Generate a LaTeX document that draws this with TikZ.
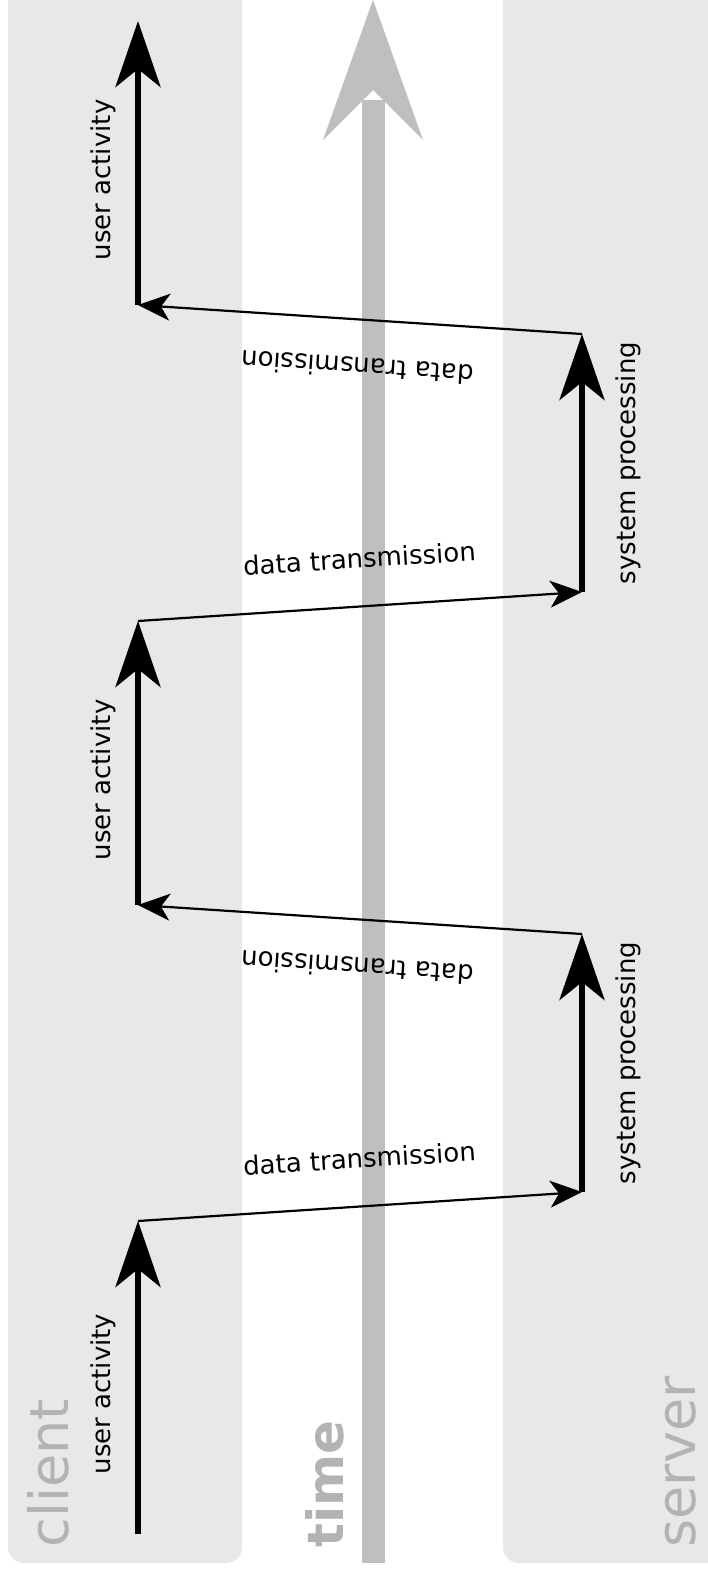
\documentclass[tikz,border=0pt]{standalone}
\usepackage{fontspec}
\setmainfont{DejaVu Sans}
\usetikzlibrary{arrows.meta}
\definecolor{panelgray}{RGB}{232,233,231}
\definecolor{biglabel}{RGB}{178,180,178}
\definecolor{timegray}{RGB}{190,192,190}
\begin{document}
\begin{tikzpicture}[x=1pt,y=-1pt,
  panel/.style={fill=panelgray, rounded corners=16pt},
  activity/.style={line width=6.5pt, -{Stealth[length=66pt,width=45pt,inset=18pt]}},
  transfer/.style={line width=2.2pt, -{Stealth[length=32pt,width=27pt,inset=9pt]}},
  smalllabel/.style={font=\fontsize{26}{30}\selectfont, inner sep=0pt},
  biglab/.style={font=\fontsize{54}{60}\selectfont, text=biglabel, inner sep=0pt, rotate=90, anchor=base}]
\useasboundingbox (0,0) rectangle (708,1574);
\clip (0,0) rectangle (708,1574);
% lanes
\fill[panel] (8,-40) rectangle (242,1563);
\fill[panel] (503,-40) rectangle (760,1563);
% time axis
\coordinate (tbot) at (373,1563);
\coordinate (tneck) at (373,90);
\coordinate (ttop) at (373,0);
\coordinate (twl) at (323,140);
\coordinate (twr) at (423,140);
\fill[timegray] (361.5,1563) rectangle (384.5,100);
\fill[timegray] (ttop) -- (twr) -- (tneck) -- (twl) -- cycle;
% lane titles
\node[biglab] (client) at (68,1473) {client};
\node[biglab, font=\fontsize{50}{56}\selectfont\bfseries] (time) at (343,1484) {time};
\node[biglab] (server) at (695,1462) {server};
% key points
\coordinate (c0) at (138,1534);
\coordinate (c1) at (138,1221);
\coordinate (s1) at (582,1192);
\coordinate (s2) at (582,934);
\coordinate (c2) at (138,905);
\coordinate (c3) at (138,621);
\coordinate (s3) at (582,592);
\coordinate (s4) at (582,334);
\coordinate (c4) at (138,305);
\coordinate (c5) at (138,21);
% activities
\draw[activity] (c0) -- (c1);
\draw[activity] (s1) -- (s2);
\draw[activity] (c2) -- (c3);
\draw[activity] (s3) -- (s4);
\draw[activity] (c4) -- (c5);
% transmissions
\draw[transfer] (c1) -- (s1);
\draw[transfer] (s2) -- (c2);
\draw[transfer] (c3) -- (s3);
\draw[transfer] (s4) -- (c4);
% labels
\node[smalllabel, rotate=90, anchor=base] (ua1) at (110,1394) {user activity};
\node[smalllabel, rotate=90, anchor=base] (ua2) at (110,780) {user activity};
\node[smalllabel, rotate=90, anchor=base] (ua3) at (110,180) {user activity};
\node[smalllabel, rotate=90, anchor=base] (sp1) at (635,1063) {system processing};
\node[smalllabel, rotate=90, anchor=base] (sp2) at (635,463) {system processing};
\node[smalllabel, rotate=3.5, anchor=base] (dt1) at (360,1168) {data transmission};
\node[smalllabel, rotate=3.5, anchor=base] (dt3) at (360,568) {data transmission};
\node[smalllabel, rotate=176.3, anchor=base] (dt2) at (358,958) {data transmission};
\node[smalllabel, rotate=176.3, anchor=base] (dt4) at (358,358) {data transmission};
\end{tikzpicture}
\end{document}
